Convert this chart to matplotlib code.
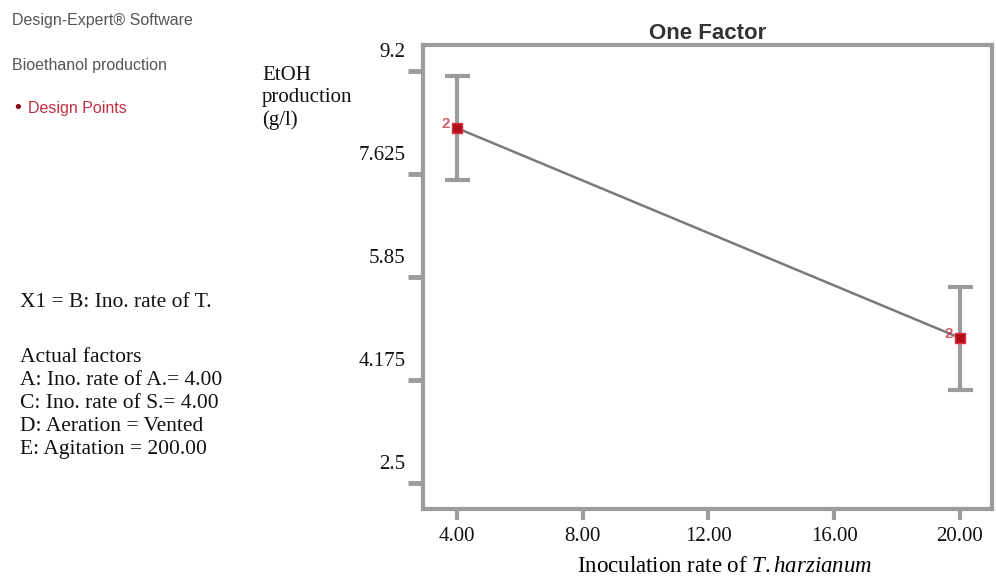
import numpy as np
import matplotlib.pyplot as plt
from matplotlib.transforms import ScaledTranslation

# data
x_levels = [4.0, 20.0]
y_pred = [8.27, 4.86]
y_low = [7.43, 4.01]
y_high = [9.11, 5.69]
n_points = ['2', '2']

y_ticks = [9.2, 7.525, 5.85, 4.175, 2.5]
y_ticklabels = ['9.2', '7.625', '5.85', '4.175', '2.5']
x_ticks = [4, 8, 12, 16, 20]
x_ticklabels = ['4.00', '8.00', '12.00', '16.00', '20.00']

factors = ['Actual factors',
           'A: Ino. rate of A.= 4.00', 'C: Ino. rate of S.= 4.00',
           'D: Aeration = Vented', 'E: Agitation = 200.00']

serif = 'Liberation Serif'
sans = 'Liberation Sans'
grey = '#9c9c9c'

plt.rcParams['mathtext.fontset'] = 'custom'
plt.rcParams['mathtext.it'] = serif + ':italic'
plt.rcParams['mathtext.rm'] = serif

fig = plt.figure(figsize=(9.96, 5.85), dpi=100)
ax = fig.add_axes([0.4247, 0.1299, 0.996 - 0.4247, 0.9231 - 0.1299])

ax.plot(x_levels, y_pred, color='#7a7a7a', lw=1.8, zorder=2)
yerr = [np.array(y_pred) - np.array(y_low), np.array(y_high) - np.array(y_pred)]
ax.errorbar(x_levels, y_pred, yerr=yerr, fmt='none', ecolor=grey,
            elinewidth=3, capsize=9, capthick=3, zorder=1)
ax.scatter(x_levels, y_pred, marker='s', s=55, c='#b0101a',
           edgecolors='#e03040', linewidths=1, zorder=3)
for xv, yv, n in zip(x_levels, y_pred, n_points):
    ax.annotate(n, (xv, yv), xytext=(-8, 3), textcoords='offset points',
                color='#c0303a', fontsize=11, family=sans, fontweight='bold',
                ha='center', va='center', alpha=0.75)

ax.set_xlim(2.92, 21.02)
ax.set_ylim(2.08, 9.62)

ax.set_yticks(y_ticks, y_ticklabels)
ax.set_xticks(x_ticks, x_ticklabels)
ax.tick_params(axis='both', color=grey, labelsize=15, labelcolor='#111111')
ax.tick_params(axis='y', width=3.5, length=10.5, pad=2)
ax.tick_params(axis='x', width=3, length=8, pad=5)
for lab in ax.get_yticklabels():
    lab.set_family(serif)
    lab.set_transform(lab.get_transform() + ScaledTranslation(0, 0.21, fig.dpi_scale_trans))
for lab in ax.get_xticklabels():
    lab.set_family(serif)

for sp in ax.spines.values():
    sp.set_color(grey)
    sp.set_linewidth(3)

ax.set_title('One Factor', fontsize=16, family=sans, color='#333333',
             fontweight='bold', pad=4)
ax.set_xlabel('Inoculation rate of $\\mathit{T.harzianum}$', fontsize=16.5,
              family=serif, labelpad=7)
ax.xaxis.label.set_x(0.531)

# left side info panel
fig.text(0.012, 0.965, 'Design-Expert® Software', fontsize=11.5, family=sans,
         color='#555555', va='center')
fig.text(0.012, 0.888, 'Bioethanol production', fontsize=11.5, family=sans,
         color='#555555', va='center')
fig.text(0.014, 0.815, '•', fontsize=14, family=sans, color='#8a0010', va='center')
fig.text(0.028, 0.815, 'Design Points', fontsize=11.5, family=sans,
         color='#c03040', va='center')

fig.text(0.263, 0.887, 'EtOH\nproduction\n(g/l)', fontsize=15, family=serif,
         va='top', linespacing=1.2, color='#111111')

fig.text(0.02, 0.483, 'X1 = B: Ino. rate of T.', fontsize=15.5, family=serif,
         va='center', color='#111111')
fig.text(0.02, 0.405, '\n'.join(factors), fontsize=15.5, family=serif,
         va='top', linespacing=1.29, color='#111111')

plt.savefig('out.png', dpi=100)
